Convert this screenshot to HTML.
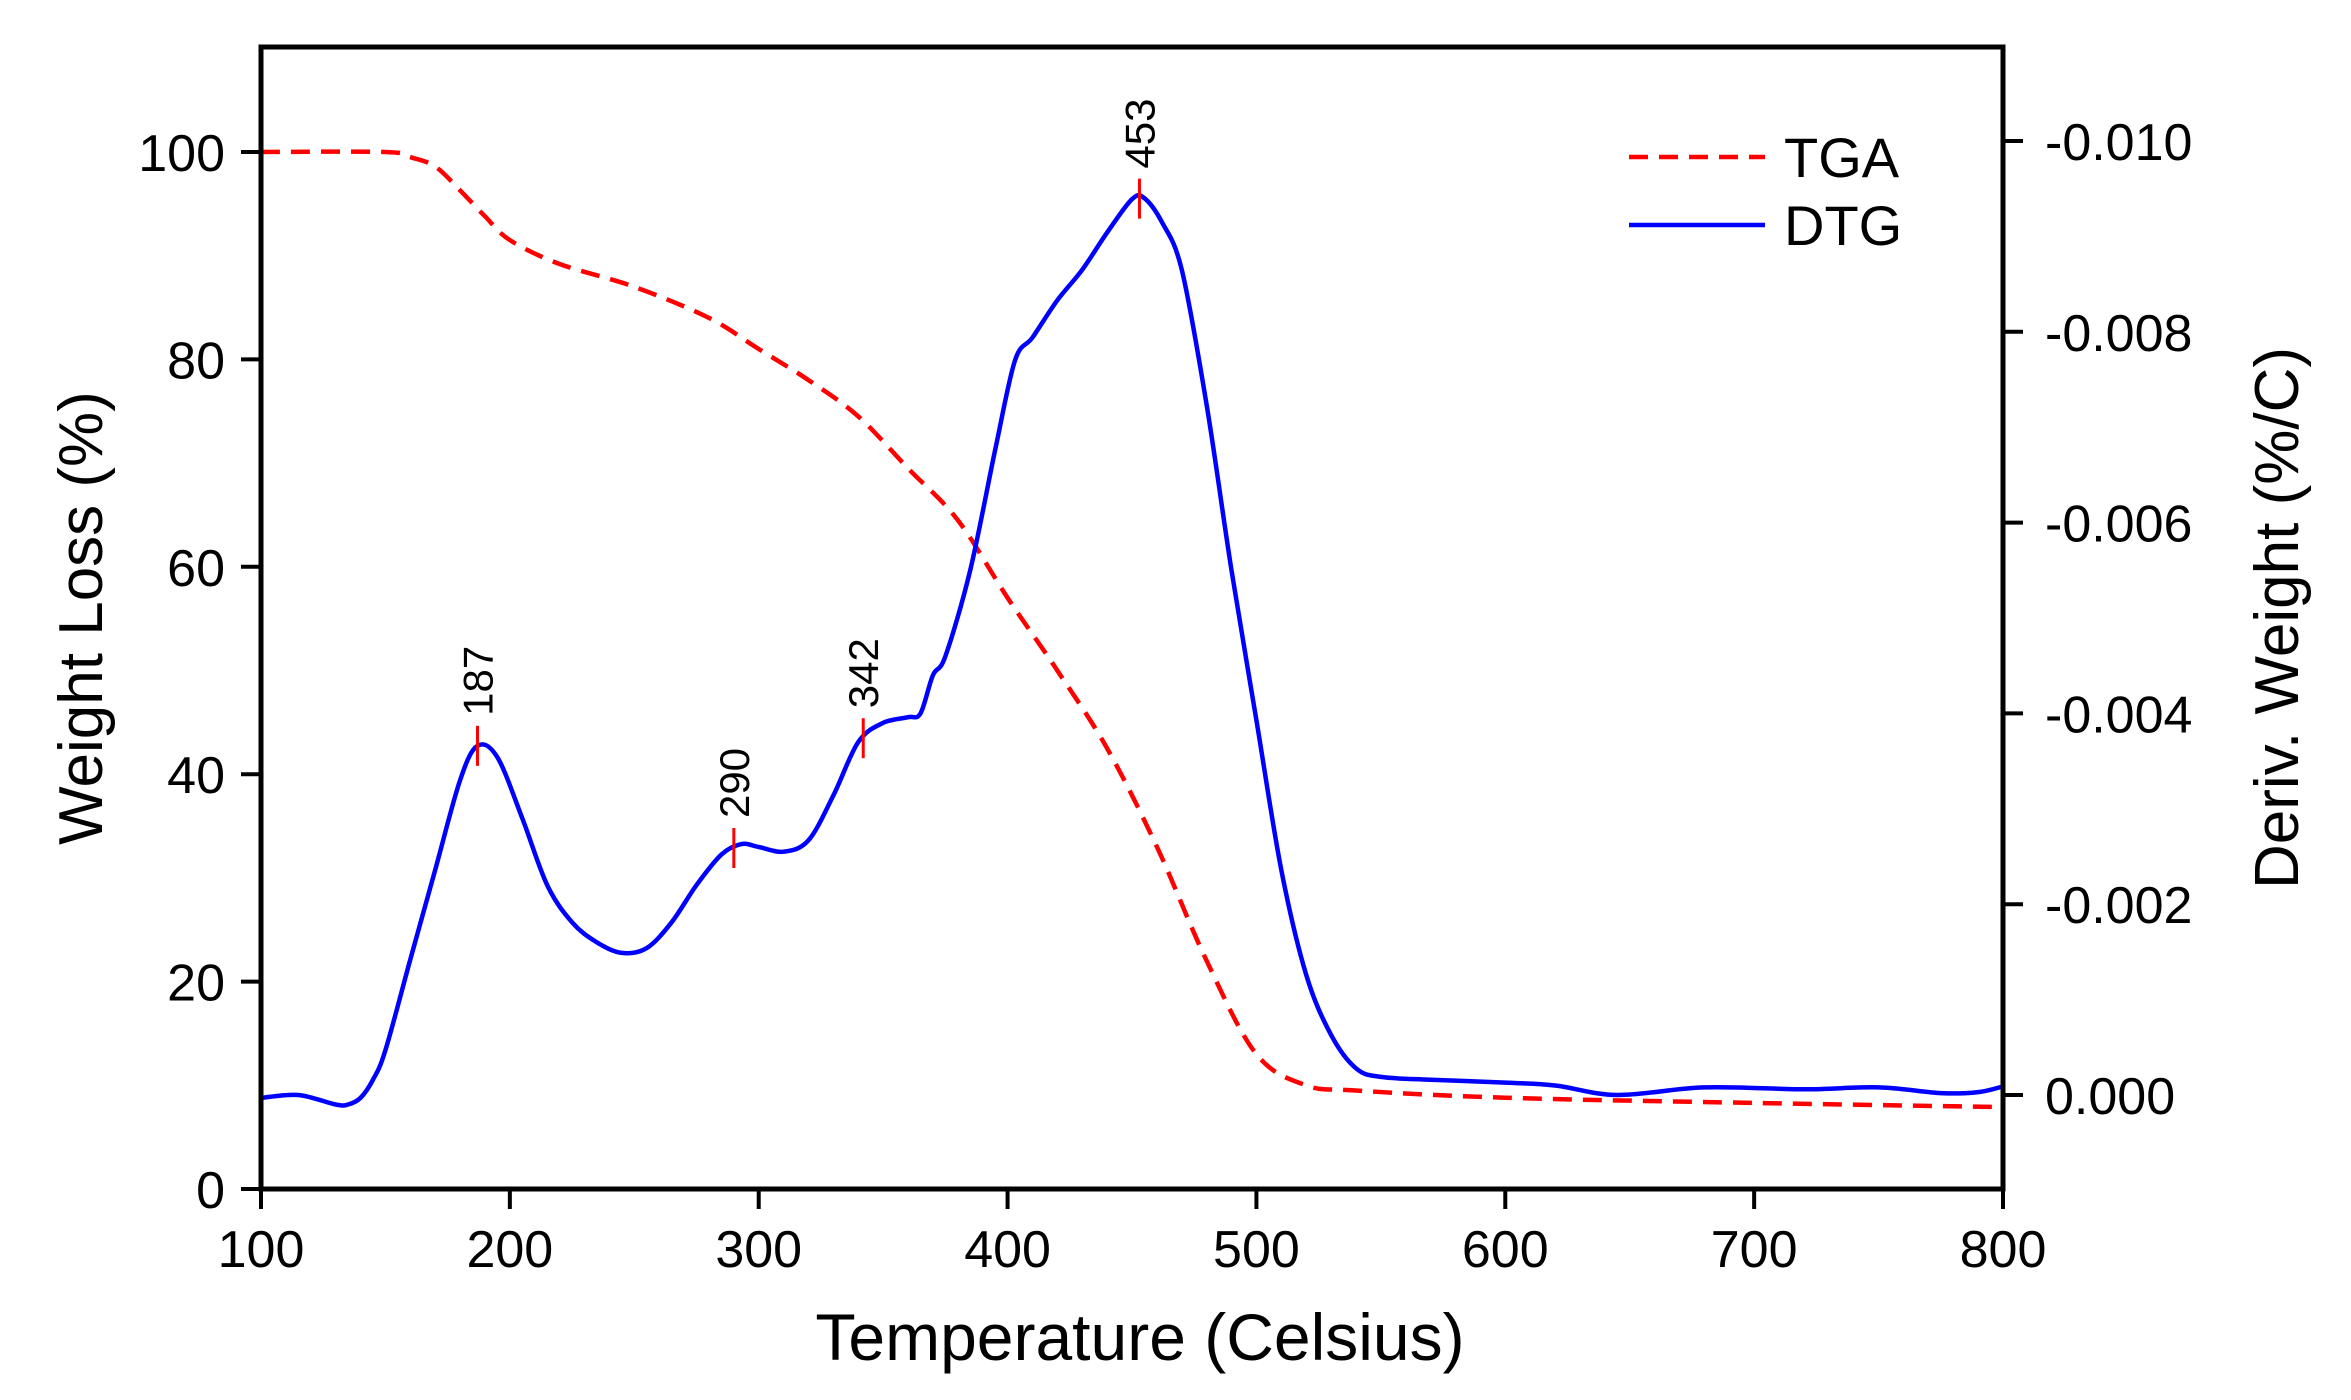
<!DOCTYPE html>
<html><head><meta charset="utf-8"><style>
body{margin:0;background:#fff}
svg{display:block;font-family:"Liberation Sans",Arial,sans-serif}
</style></head><body>
<svg id="chart" width="2351" height="1400" viewBox="0 0 2351 1400" xmlns="http://www.w3.org/2000/svg">
<g id="marks"></g>
<g id="axes"></g>
</svg>
<script>
const tgaTemps=[100,150,160,170,180,190,200,220,250,280,300,320,340,360,380,400,420,440,460,480,500,520,540,600,700,800];
const tgaValues=[100,100,99.5,98.6,96.3,93.8,91.5,89.2,87,84,81,78,74.5,69.5,64.5,57,50,42.5,33,22,13,10,9.5,8.8,8.3,7.9];
const dtgTemps=[100,115,130,135,140,145,150,160,170,180,187,195,205,215,225,235,245,255,265,275,285,293,300,310,320,330,340,350,360,365,370,375,385,395,403,410,420,430,440,450,455,462,470,480,490,500,510,520,530,540,550,570,600,620,645,680,720,750,775,790,800];
const dtgValues=[-0.00003,0,-0.0001,-0.0001,-0.00003,0.00016,0.00047,0.00142,0.00236,0.0033,0.00366,0.00354,0.0029,0.0022,0.00181,0.0016,0.00149,0.00154,0.00181,0.0022,0.00252,0.00263,0.0026,0.00255,0.00267,0.00314,0.0037,0.0039,0.00396,0.004,0.0044,0.0046,0.0055,0.00676,0.0077,0.00794,0.00833,0.00865,0.00904,0.00939,0.0094,0.00915,0.00865,0.00723,0.0055,0.00393,0.00236,0.00126,0.00063,0.00028,0.00019,0.00016,0.00013,0.0001,0,0.00008,0.00006,0.00008,0.00002,0.00003,0.00009];
const peakTemps=[187,290,342,453];
const peakLabels=["187","290","342","453"];
const xTicks=[100,200,300,400,500,600,700,800];
const yLeftTicks=[0,20,40,60,80,100];
const yRightTicks=[0,0.002,0.004,0.006,0.008,0.010];
const yRightLabels=["0.000","-0.002","-0.004","-0.006","-0.008","-0.010"];

const L=261,R=2003,T=47,B=1189;
const x=t=>L+(t-100)*(R-L)/700;
const yL=v=>B-v*10.37;
const yR=m=>1095-m*95400;
const NS="http://www.w3.org/2000/svg";
const marks=document.getElementById('marks'),axes=document.getElementById('axes');
function mk(tag,attrs,parent){const e=document.createElementNS(NS,tag);for(const k in attrs)e.setAttribute(k,attrs[k]);parent.appendChild(e);return e;}
function interp(ts,vs,t){for(let i=0;i<ts.length-1;i++){if(t>=ts[i]&&t<=ts[i+1]){const f=(t-ts[i])/(ts[i+1]-ts[i]);return vs[i]+f*(vs[i+1]-vs[i]);}}return vs[vs.length-1];}
function smooth(p){let d='M'+p[0][0].toFixed(1)+' '+p[0][1].toFixed(1);
  for(let i=0;i<p.length-1;i++){const p0=p[Math.max(0,i-1)],p1=p[i],p2=p[i+1],p3=p[Math.min(p.length-1,i+2)];
    const c1=[p1[0]+(p2[0]-p0[0])/6,p1[1]+(p2[1]-p0[1])/6],c2=[p2[0]-(p3[0]-p1[0])/6,p2[1]-(p3[1]-p1[1])/6];
    d+=` C${c1[0].toFixed(1)} ${c1[1].toFixed(1)} ${c2[0].toFixed(1)} ${c2[1].toFixed(1)} ${p2[0].toFixed(1)} ${p2[1].toFixed(1)}`;}
  return d;}

const tga=mk('path',{d:smooth(tgaTemps.map((t,i)=>[x(t),yL(tgaValues[i])])),fill:'none',stroke:'#ff0000','stroke-width':4.5,'stroke-dasharray':'19 11'},marks);


const dtg=mk('path',{d:smooth(dtgTemps.map((t,i)=>[x(t),yR(dtgValues[i])])),fill:'none',stroke:'#0000ff','stroke-width':4.5,'stroke-linejoin':'round'},marks);



peakTemps.forEach((t,i)=>{
  const py=yR(interp(dtgTemps,dtgValues,t));
  const m=mk('line',{x1:x(t),x2:x(t),y1:py-20,y2:py+20,stroke:'#ff0000','stroke-width':3},marks);
  
  
  const tx=mk('text',{x:x(t)+15,y:py-30,'font-size':42,transform:`rotate(-90 ${x(t)+15} ${py-30})`},marks);
  tx.textContent=peakLabels[i];
  
  
});

const frame=mk('rect',{x:L,y:T,width:R-L,height:B-T,fill:'none',stroke:'#000','stroke-width':5},axes);


xTicks.forEach(t=>{
  const ln=mk('line',{x1:x(t),x2:x(t),y1:B,y2:B+20,stroke:'#000','stroke-width':4},axes);
  
  
  const tx=mk('text',{x:x(t),y:B+78,'font-size':52,'text-anchor':'middle'},axes);
  tx.textContent=t;
  
  
});
yLeftTicks.forEach(v=>{
  const ln=mk('line',{x1:L-20,x2:L,y1:yL(v),y2:yL(v),stroke:'#000','stroke-width':4},axes);
  
  
  const tx=mk('text',{x:L-36,y:yL(v)+19,'font-size':52,'text-anchor':'end'},axes);
  tx.textContent=v;
  
  
});
yRightTicks.forEach((m,i)=>{
  const ln=mk('line',{x1:R,x2:R+20,y1:yR(m),y2:yR(m),stroke:'#000','stroke-width':4},axes);
  
  
  const tx=mk('text',{x:R+42,y:yR(m)+19,'font-size':52},axes);
  tx.textContent=yRightLabels[i];
  
  
});
const xt=mk('text',{x:1140,y:1360,'font-size':66,'text-anchor':'middle'},axes);
xt.textContent='Temperature (Celsius)';


const ylt=mk('text',{x:102,y:618,'font-size':62,'text-anchor':'middle',transform:'rotate(-90 102 618)'},axes);
ylt.textContent='Weight Loss (%)';


const yrt=mk('text',{x:2298,y:618,'font-size':62,'text-anchor':'middle',transform:'rotate(-90 2298 618)'},axes);
yrt.textContent='Deriv. Weight (%/C)';



const lg=mk('g',{},axes);


const l1=mk('line',{x1:1629,x2:1765,y1:157,y2:157,stroke:'#ff0000','stroke-width':4.5,'stroke-dasharray':'19 11'},lg);


const t1=mk('text',{x:1784,y:177,'font-size':56},lg);
t1.textContent='TGA';


const l2=mk('line',{x1:1629,x2:1765,y1:225,y2:225,stroke:'#0000ff','stroke-width':4.5},lg);


const t2=mk('text',{x:1784,y:245,'font-size':56},lg);
t2.textContent='DTG';


</script>
</body></html>
